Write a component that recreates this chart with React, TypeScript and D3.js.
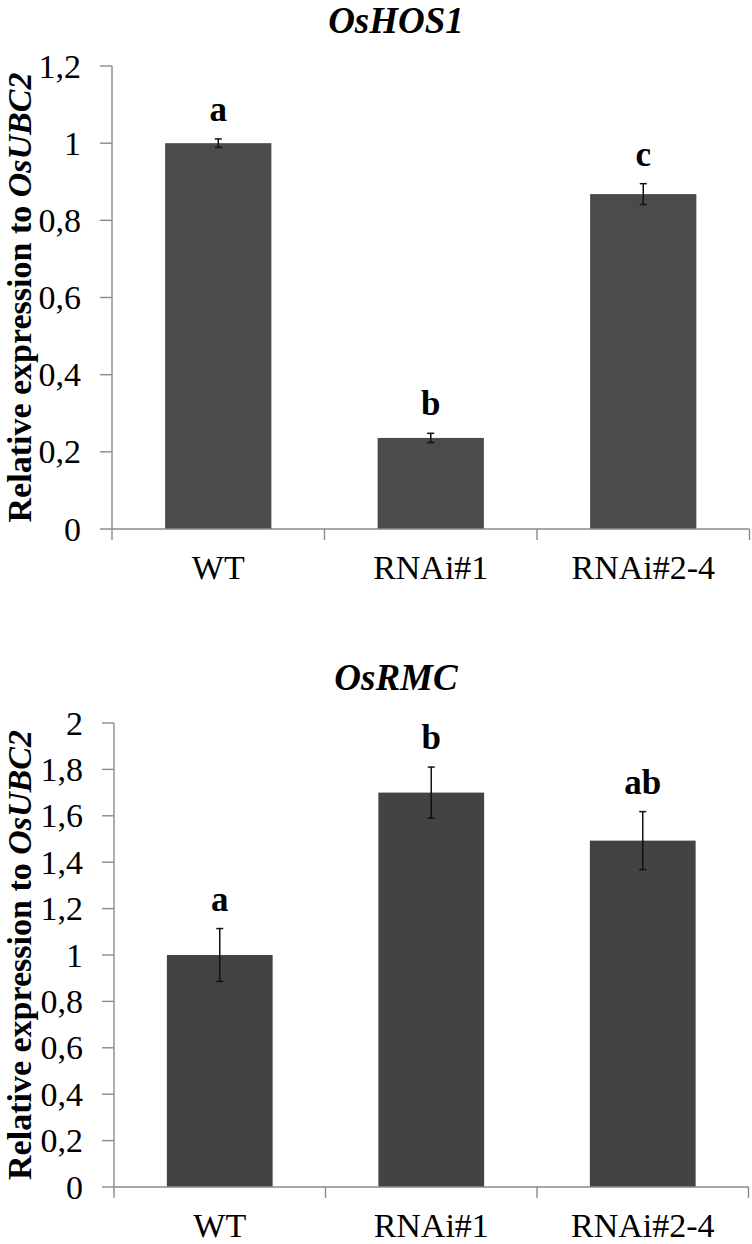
import React from "react";
import * as d3 from "d3";

const categories = ["WT", "RNAi#1", "RNAi#2-4"];

const hosTitle = "OsHOS1";
const hosValues = [1.0, 0.236, 0.868];
const hosErrors = [0.011, 0.012, 0.027];
const hosLetters = ["a", "b", "c"];
const hosTicks = [0, 0.2, 0.4, 0.6, 0.8, 1.0, 1.2];
const hosTickLabels = ["0", "0,2", "0,4", "0,6", "0,8", "1", "1,2"];

const rmcTitle = "OsRMC";
const rmcValues = [1.0, 1.7, 1.493];
const rmcErrors = [0.114, 0.11, 0.125];
const rmcLetters = ["a", "b", "ab"];
const rmcTicks = [0, 0.2, 0.4, 0.6, 0.8, 1.0, 1.2, 1.4, 1.6, 1.8, 2.0];
const rmcTickLabels = ["0", "0,2", "0,4", "0,6", "0,8", "1", "1,2", "1,4", "1,6", "1,8", "2"];

const FONT = "'Liberation Serif', 'Times New Roman', Times, serif";

type PanelProps = {
  title: string;
  values: number[];
  errors: number[];
  letters: string[];
  ticks: number[];
  tickLabels: string[];
  yMax: number;
  top: number;
  bottom: number;
  left: number;
  right: number;
  barColor: string;
};

function Panel(p: PanelProps) {
  const y = d3.scaleLinear().domain([0, p.yMax]).range([p.bottom, p.top]);
  const x = d3
    .scaleBand<string>()
    .domain(categories)
    .range([p.left, p.right])
    .paddingInner(0.5)
    .paddingOuter(0.25);
  const step = x.step();
  const boundaries = d3.range(categories.length + 1).map((i) => p.left + i * step);
  const axisColor = "#8a8a8a";
  const titleY = p.top - 33;
  const midY = (p.top + p.bottom) / 2;
  return (
    <g>
      <text
        x={396}
        y={titleY}
        textAnchor="middle"
        fontFamily={FONT}
        fontWeight="bold"
        fontStyle="italic"
        fontSize={37}
        fill="#000"
      >
        {p.title}
      </text>
      <text
        transform={`translate(31,${midY}) rotate(-90)`}
        textAnchor="middle"
        fontFamily={FONT}
        fontWeight="bold"
        fontSize={34}
        fill="#000"
      >
        Relative expression to <tspan fontStyle="italic">OsUBC2</tspan>
      </text>
      <line x1={p.left} x2={p.left} y1={p.top} y2={p.bottom} stroke={axisColor} strokeWidth={1.4} />
      {p.ticks.map((t, i) => (
        <g key={"t" + i}>
          <line x1={p.left - 12} x2={p.left} y1={y(t)} y2={y(t)} stroke={axisColor} strokeWidth={1.4} />
          <text
            x={p.left - 31}
            y={y(t)}
            dy="0.34em"
            textAnchor="end"
            fontFamily={FONT}
            fontSize={34}
            fill="#000"
          >
            {p.tickLabels[i]}
          </text>
        </g>
      ))}
      {categories.map((c, i) => (
        <rect
          key={"b" + c}
          x={x(c)}
          y={y(p.values[i])}
          width={x.bandwidth()}
          height={y(0) - y(p.values[i])}
          fill={p.barColor}
        />
      ))}
      <line x1={p.left} x2={p.right} y1={y(0)} y2={y(0)} stroke={axisColor} strokeWidth={1.4} />
      {boundaries.map((bx, i) => (
        <line key={"xb" + i} x1={bx} x2={bx} y1={y(0)} y2={y(0) + 11} stroke={axisColor} strokeWidth={1.4} />
      ))}
      {categories.map((c) => (
        <text
          key={"xl" + c}
          x={(x(c) as number) + x.bandwidth() / 2}
          y={y(0) + 49.5}
          textAnchor="middle"
          fontFamily={FONT}
          fontSize={34}
          fill="#000"
        >
          {c}
        </text>
      ))}
      {categories.map((c, i) => {
        const cx = (x(c) as number) + x.bandwidth() / 2;
        const hi = y(p.values[i] + p.errors[i]);
        const lo = y(p.values[i] - p.errors[i]);
        return (
          <g key={"e" + c}>
            <line x1={cx} x2={cx} y1={hi} y2={lo} stroke="#111" strokeWidth={1.5} />
            <line x1={cx - 3.5} x2={cx + 3.5} y1={hi} y2={hi} stroke="#111" strokeWidth={1.5} />
            <line x1={cx - 3.5} x2={cx + 3.5} y1={lo} y2={lo} stroke="#111" strokeWidth={1.5} />
            <text
              x={cx}
              y={hi - 18}
              textAnchor="middle"
              fontFamily={FONT}
              fontWeight="bold"
              fontSize={35}
              fill="#000"
            >
              {p.letters[i]}
            </text>
          </g>
        );
      })}
    </g>
  );
}

export default function App() {
  return (
    <svg
      width={752}
      height={1244}
      viewBox="0 0 752 1244"
      style={{ position: "absolute", left: 0, top: 0, display: "block", background: "#fff" }}
    >
      <rect x={0} y={0} width={752} height={1244} fill="#fff" />
      <Panel
        title={hosTitle}
        values={hosValues}
        errors={hosErrors}
        letters={hosLetters}
        ticks={hosTicks}
        tickLabels={hosTickLabels}
        yMax={1.2}
        top={66}
        bottom={529}
        left={112}
        right={749.5}
        barColor="#4b4b4b"
      />
      <Panel
        title={rmcTitle}
        values={rmcValues}
        errors={rmcErrors}
        letters={rmcLetters}
        ticks={rmcTicks}
        tickLabels={rmcTickLabels}
        yMax={2.0}
        top={723}
        bottom={1187}
        left={114}
        right={748.5}
        barColor="#434343"
      />
    </svg>
  );
}
